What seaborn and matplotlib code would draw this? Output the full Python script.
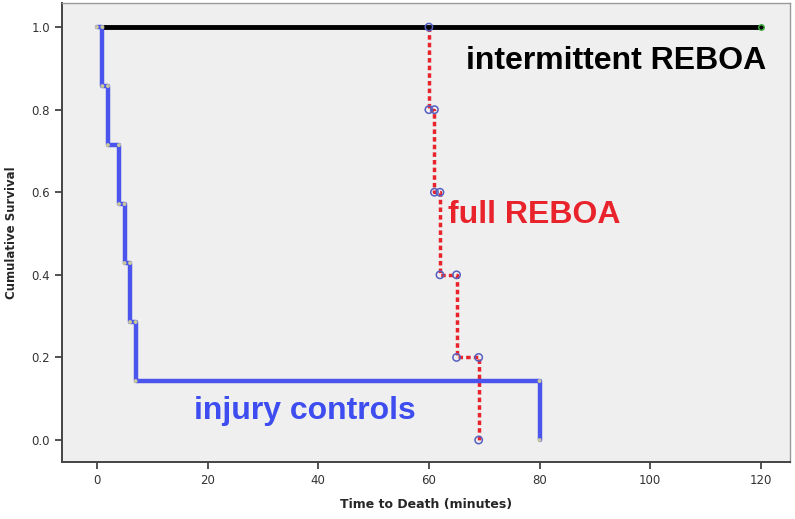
import numpy as np
import pandas as pd
import matplotlib
matplotlib.use("Agg")
import matplotlib.pyplot as plt
import seaborn as sns

# death times (minutes)
controls_times = [1, 2, 4, 5, 6, 7, 80]
full_times = [60, 61, 62, 65, 69]
intermittent_end = 120  # all survived, censored at 120

group_labels = ["injury controls", "full REBOA", "intermittent REBOA"]
group_colors = ["#4b55ee", "#e8232b", "#000000"]


def km_steps(times):
    # step curve points for a group with no censoring
    n = len(times)
    xs, ys = [0], [1.0]
    s = 1.0
    for i, t in enumerate(times):
        xs.append(t); ys.append(s)
        s = 1 - (i + 1) / n
        xs.append(t); ys.append(s)
    return xs, ys


cx, cy = km_steps(controls_times)
fx, fy = km_steps(full_times)
df = pd.concat([
    pd.DataFrame({"time": cx, "surv": cy, "group": group_labels[0]}),
    pd.DataFrame({"time": fx, "surv": fy, "group": group_labels[1]}),
    pd.DataFrame({"time": [1, intermittent_end], "surv": [1.0, 1.0], "group": group_labels[2]}),
])

sns.set_style("ticks")
plt.rcParams["font.family"] = ["DejaVu Sans"]

fig = plt.figure(figsize=(7.95, 5.19), dpi=100)
ax = fig.add_axes([0.078, 0.110, 0.916, 0.884])
ax.set_facecolor("#efefef")

# full REBOA
d = df[df.group == group_labels[1]]
sns.lineplot(data=d.iloc[1:], x="time", y="surv", color=group_colors[1], lw=2.5,
             sort=False, estimator=None, ax=ax, legend=False, dashes=False,
             linestyle=(0, (1.3, 0.9)), zorder=3)

# intermittent REBOA
d = df[df.group == group_labels[2]]
sns.lineplot(data=d, x="time", y="surv", color=group_colors[2], lw=3.5,
             sort=False, estimator=None, ax=ax, legend=False, zorder=4)
ax.plot(intermittent_end, 1.0, "o", mfc="none", mec="#3cae3c", ms=4, mew=1, zorder=7)

# injury controls
d = df[df.group == group_labels[0]]
sns.lineplot(data=d, x="time", y="surv", color=group_colors[0], lw=3.2,
             sort=False, estimator=None, ax=ax, legend=False, zorder=5)
sns.scatterplot(data=d, x="time", y="surv", color="#c8c89a", s=8,
                edgecolor="none", ax=ax, legend=False, zorder=6)

# full REBOA markers
d = df[df.group == group_labels[1]]
sns.scatterplot(data=d.iloc[1:], x="time", y="surv", marker="o", s=28,
                facecolor="none", edgecolor="#5560c0", linewidth=1.1,
                ax=ax, legend=False, zorder=7)

ax.text(121, 0.918, "intermittent REBOA", ha="right", va="center",
        fontsize=23, fontweight="bold", color="black", family="Liberation Sans")
ax.text(63.5, 0.545, "full REBOA", ha="left", va="center",
        fontsize=23, fontweight="bold", color="#e8232b", family="Liberation Sans")
ax.text(17.5, 0.07, "injury controls", ha="left", va="center",
        fontsize=23, fontweight="bold", color="#3d4df0", family="Liberation Sans")

ax.set_xlim(-6.3, 125.3)
ax.set_ylim(-0.053, 1.058)
ax.set_xticks(range(0, 121, 20))
ax.set_yticks([0, 0.2, 0.4, 0.6, 0.8, 1.0])
ax.set_yticklabels(["0.0", "0.2", "0.4", "0.6", "0.8", "1.0"])
ax.tick_params(labelsize=8.5, colors="#333333", length=5, width=1.2)
ax.set_xlabel("Time to Death (minutes)", fontsize=9, fontweight="bold", labelpad=8)
ax.set_ylabel("Cumulative Survival", fontsize=8.5, fontweight="bold", labelpad=10)

for side in ["left", "bottom"]:
    ax.spines[side].set_color("#444444")
    ax.spines[side].set_linewidth(1.4)
for side in ["top", "right"]:
    ax.spines[side].set_visible(True)
    ax.spines[side].set_color("#999999")
    ax.spines[side].set_linewidth(1)

fig.savefig("out.png", dpi=100)
